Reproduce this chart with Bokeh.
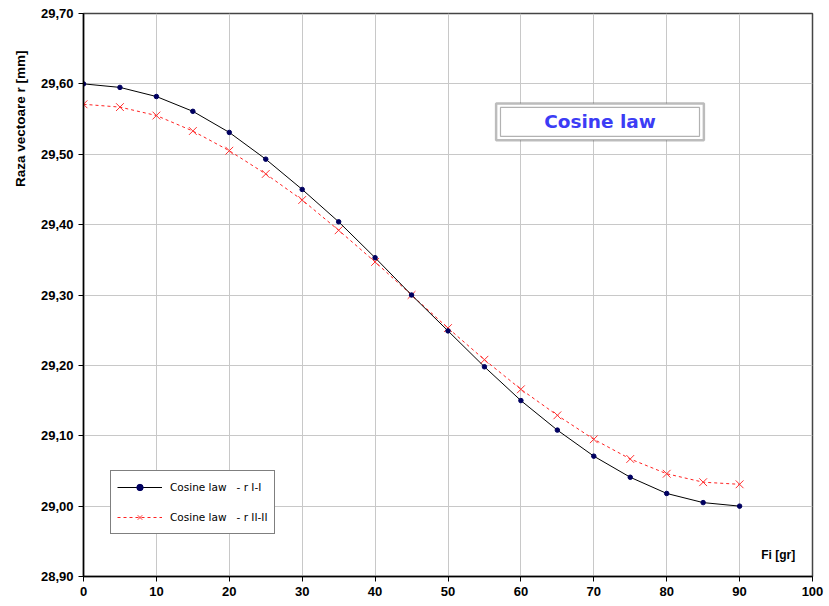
import math
from bokeh.plotting import figure
from bokeh.models import (Label, BoxAnnotation, Legend, LegendItem, Title,
                          CustomJSTickFormatter, FixedTicker, Range1d, ColumnDataSource)
from bokeh.embed import file_html
from bokeh.resources import INLINE

fi = [0, 5, 10, 15, 20, 25, 30, 35, 40, 45, 50, 55, 60, 65, 70, 75, 80, 85, 90]
r_I = [29.600, 29.595, 29.582, 29.561, 29.531, 29.493, 29.450, 29.404, 29.353, 29.300,
       29.249, 29.198, 29.150, 29.108, 29.071, 29.041, 29.018, 29.005, 29.000]
r_II = [29.571, 29.567, 29.555, 29.533, 29.505, 29.472, 29.435, 29.392, 29.347, 29.300,
        29.253, 29.208, 29.166, 29.129, 29.095, 29.067, 29.046, 29.034, 29.031]
x_ticks = [0, 10, 20, 30, 40, 50, 60, 70, 80, 90, 100]
y_ticks = [28.9, 29.0, 29.1, 29.2, 29.3, 29.4, 29.5, 29.6, 29.7]

FONT = "Liberation Sans"

p = figure(width=827, height=604, output_backend="svg", toolbar_location=None,
           x_range=Range1d(0, 100), y_range=Range1d(28.9, 29.7),
           min_border_left=83, min_border_right=15, min_border_top=13, min_border_bottom=28)

p.background_fill_color = "white"
p.border_fill_color = "white"
p.outline_line_color = "#444444"
p.outline_line_width = 1.5

for ax in (p.xaxis[0], p.yaxis[0]):
    ax.axis_line_color = "black"
    ax.axis_line_width = 1.5
    ax.major_tick_line_color = "black"
    ax.major_tick_out = 5
    ax.major_tick_in = 0
    ax.minor_tick_line_color = None
    ax.major_label_text_font = FONT
    ax.major_label_text_font_size = "13px"
    ax.major_label_text_font_style = "bold"
    ax.major_label_text_color = "black"
    ax.major_label_standoff = 5

p.xaxis.ticker = FixedTicker(ticks=x_ticks)
p.yaxis.ticker = FixedTicker(ticks=y_ticks)
p.yaxis.formatter = CustomJSTickFormatter(code="return tick.toFixed(2).replace('.', ',');")
p.xaxis.formatter = CustomJSTickFormatter(code="return tick.toFixed(0);")

p.xgrid.grid_line_color = "#c8c8c8"
p.ygrid.grid_line_color = "#c8c8c8"
p.xgrid.grid_line_width = 1
p.ygrid.grid_line_width = 1

src = ColumnDataSource(dict(fi=fi, r_I=r_I, r_II=r_II))

l2 = p.line("fi", "r_II", source=src, line_color="#ff2020", line_dash="3 3", line_width=1)
m2 = p.scatter("fi", "r_II", source=src, marker="x", size=11, line_color="#ff3030", line_width=1)
l1 = p.line("fi", "r_I", source=src, line_color="black", line_width=1)
m1 = p.scatter("fi", "r_I", source=src, marker="circle", size=4.5, fill_color="#000060",
               line_color="#000060")

legend = Legend(items=[LegendItem(label="Cosine law   - r I-I", renderers=[l1, m1]),
                       LegendItem(label="Cosine law   - r II-II", renderers=[l2, m2])],
                location=(27, 42), orientation="vertical")
legend.border_line_color = "black"
legend.border_line_width = 1
legend.background_fill_color = "white"
legend.background_fill_alpha = 1
legend.label_text_font = "DejaVu Sans"
legend.label_text_font_size = "10.5px"
legend.label_text_color = "black"
legend.glyph_width = 45
legend.glyph_height = 16
legend.label_height = 20
legend.label_standoff = 8
legend.padding = 6
legend.spacing = 10
legend.margin = 0
p.add_layout(legend, "center")

# Title box with double border
outer = BoxAnnotation(left=56.6, right=85.1, top=29.572, bottom=29.520,
                      fill_color="white", fill_alpha=1,
                      line_color="#222222", line_width=2.5, level="overlay")
inner = BoxAnnotation(left=57.2, right=84.5, top=29.5665, bottom=29.5255,
                      fill_alpha=0, line_color="black", line_width=1.2, level="overlay")
p.add_layout(outer)
p.add_layout(inner)
p.add_layout(Label(x=70.85, y=29.546, text="Cosine law", text_font="DejaVu Sans",
                   text_font_size="18.5px", text_font_style="bold", text_color="#3c3cf5",
                   text_align="center", text_baseline="middle", level="overlay"))

p.add_layout(Label(x=95.3, y=28.93, text="Fi [gr]", text_font=FONT,
                   text_font_size="12px", text_font_style="bold", text_color="black",
                   text_align="center", text_baseline="middle"))

ylab = Title(text="Raza vectoare r [mm]", align="right", offset=37,
             text_font=FONT, text_font_size="13.5px", text_font_style="bold",
             text_color="black")
try:
    ylab.standoff = 20
except Exception:
    pass
p.add_layout(ylab, "left")

open("out.html", "w").write(file_html(p, INLINE))
